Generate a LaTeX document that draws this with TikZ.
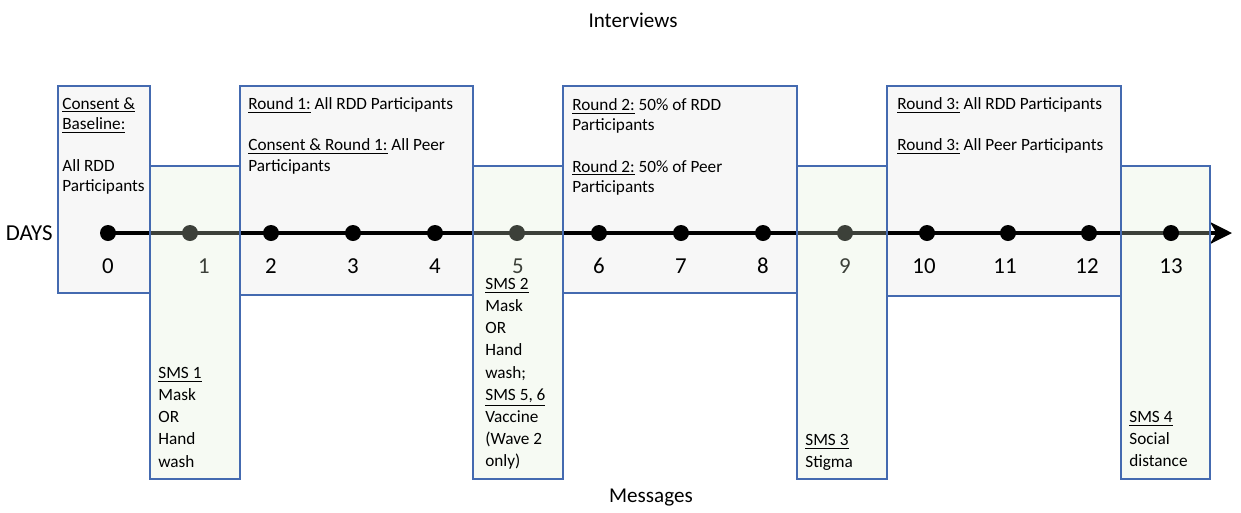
\documentclass[tikz,border=0pt]{standalone}
\usepackage{fontspec}
\setmainfont{Carlito}
\usetikzlibrary{arrows.meta}

\definecolor{boxblue}{RGB}{68,106,176}
\definecolor{boxgrey}{RGB}{247,247,247}
\definecolor{msggreen}{RGB}{222,238,212}

\begin{document}
\begin{tikzpicture}[x=0.02cm, y=-0.02cm,
    interview/.style={draw=boxblue, fill=boxgrey, line width=0.6pt},
    message/.style={draw=boxblue, fill=msggreen, fill opacity=0.27, line width=0.6pt},
    boxtext/.style={anchor=north west, inner sep=0pt, align=left, font=\fontsize{9.8}{11.75}\selectfont},
    msgtext/.style={boxtext, font=\fontsize{9.8}{12.6}\selectfont},
    daynum/.style={inner sep=0pt, font=\fontsize{13}{15}\selectfont},
    dot/.style={circle, fill=black, inner sep=0pt, minimum size=0.32cm},
    heading/.style={inner sep=0pt, font=\fontsize{12}{14}\selectfont}]
    \useasboundingbox (0,0) rectangle (1241,512);

    \def\gap{11.75pt}
    \def\top{86}
    \def\bot{479}

    \node[heading] (interviews) at (633,20) {Interviews};
    \node[heading] (messages) at (651,498) {Messages};
    \node[daynum, anchor=east] (days) at (53,233) {DAYS};

    \draw[interview] (58,\top) rectangle (150,293);
    \draw[interview] (240,\top) rectangle (473,295);
    \draw[interview] (563,\top) rectangle (797,293);
    \draw[interview] (887,\top) rectangle (1121,296);

    \node[boxtext] (int0) at (62,97) {\underline{Consent \&}\\\underline{Baseline:}\\[\gap]All RDD\\Participants};
    \node[boxtext] (int1) at (248,97) {\underline{Round 1:} All RDD Participants\\[\gap]\underline{Consent \& Round 1:} All Peer\\Participants};
    \node[boxtext] (int2) at (572,98) {\underline{Round 2:} 50\% of RDD\\Participants\\[\gap]\underline{Round 2:} 50\% of Peer\\Participants};
    \node[boxtext] (int3) at (897,97) {\underline{Round 3:} All RDD Participants\\[\gap]\underline{Round 3:} All Peer Participants};

    \coordinate (start) at (108,233);
    \coordinate (tip) at (1232,233);
    \draw[line width=2.4pt, -{Stealth[length=4.4mm, width=4.4mm, inset=1.3mm]}] (start) -- (tip);

    \foreach \d/\xx in {0/108,1/190,2/271,3/353,4/435,5/517,6/599,7/681,8/763,9/845,10/927,11/1008,12/1089}{
        \node[dot] (d\d) at (\xx,233) {};
    }
    \foreach \d/\xx in {0/108,1/204,2/271,3/353,4/435,5/518,6/599,7/681,8/763,9/845,10/924,11/1005,12/1087}{
        \node[daynum] (n\d) at (\xx,266) {\d};
    }

    \draw[message] (150,166) rectangle (240,\bot);
    \draw[message] (473,166) rectangle (563,\bot);
    \draw[message] (797,166) rectangle (887,\bot);
    \draw[message] (1121,166) rectangle (1210,\bot);

    \node[dot] (d13) at (1171,233) {};
    \node[daynum] (n13) at (1171,266) {13};

    \node[msgtext] (msg1) at (158,367) {\underline{SMS 1}\\Mask\\OR\\Hand\\wash};
    \node[msgtext] (msg2) at (485,278) {\underline{SMS 2}\\Mask\\OR\\Hand\\wash;\\\underline{SMS 5, 6}\\Vaccine\\(Wave 2\\only)};
    \node[msgtext] (msg3) at (805,434) {\underline{SMS 3}\\Stigma};
    \node[msgtext] (msg4) at (1129,411) {\underline{SMS 4}\\Social\\distance};
\end{tikzpicture}
\end{document}
